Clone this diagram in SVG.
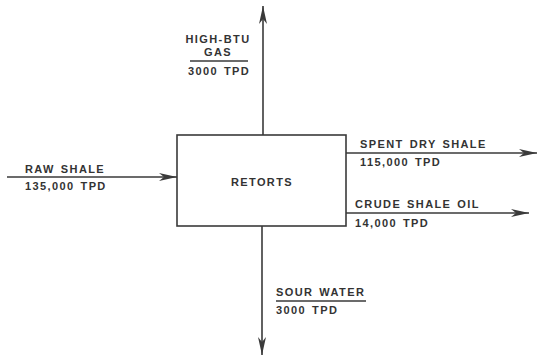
<svg xmlns="http://www.w3.org/2000/svg" width="537" height="356" viewBox="0 0 537 356">
<style>
text{font-family:"Liberation Sans",Arial,sans-serif;font-size:11px;font-weight:bold;fill:#333;letter-spacing:1.4px;word-spacing:1.5px}
.ln{stroke:#3a3a3a;stroke-width:1.6;fill:none}
.mid{text-anchor:middle}
</style>
<defs>
<marker id="ah" markerUnits="userSpaceOnUse" markerWidth="20" markerHeight="10" refX="18" refY="4.5" orient="auto" viewBox="0 0 20 9">
<path d="M0,0.5 L18,4.5 L0,8.5 L5,4.5 z" fill="#3a3a3a"/>
</marker>
</defs>
<rect width="537" height="356" fill="#fff"/>
<g id="retorts">
<rect class="ln" x="177" y="135" width="169" height="91"/>
<text class="mid" x="262" y="186">RETORTS</text>
</g>
<g id="connectors">
<line class="ln" x1="263" y1="135" x2="263" y2="6" marker-end="url(#ah)"/>
<line class="ln" x1="7" y1="177" x2="177" y2="177" marker-end="url(#ah)"/>
<line class="ln" x1="346" y1="153" x2="537" y2="153" marker-end="url(#ah)"/>
<line class="ln" x1="346" y1="213" x2="529" y2="213" marker-end="url(#ah)"/>
<line class="ln" x1="262" y1="226" x2="262" y2="355" marker-end="url(#ah)"/>
</g>
<g id="gas-label">
<text class="mid" x="218" y="43">HIGH-BTU</text>
<text class="mid" x="218" y="56">GAS</text>
<line class="ln" x1="190" y1="61" x2="248" y2="61" stroke-width="1.3"/>
<text class="mid" x="219" y="75">3000 TPD</text>
</g>
<g id="raw-label">
<text x="25" y="173">RAW SHALE</text>
<text x="25" y="190">135,000 TPD</text>
</g>
<g id="spent-label">
<text x="360" y="148">SPENT DRY SHALE</text>
<text x="360" y="166">115,000 TPD</text>
</g>
<g id="oil-label">
<text x="355" y="208">CRUDE SHALE OIL</text>
<text x="355" y="227">14,000 TPD</text>
</g>
<g id="water-label">
<text x="276" y="296">SOUR WATER</text>
<line class="ln" x1="276" y1="301" x2="366" y2="301" stroke-width="1.3"/>
<text x="276" y="314">3000 TPD</text>
</g>
</svg>
